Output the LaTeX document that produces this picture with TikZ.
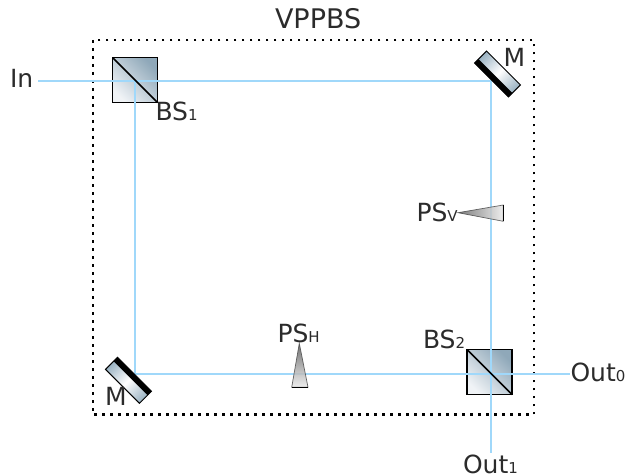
\documentclass[tikz,border=0pt]{standalone}
\usepackage{fontspec}
\setmainfont{DejaVu Sans}
\usetikzlibrary{calc}
\definecolor{beamblue}{RGB}{160,216,250}
\definecolor{labelgray}{HTML}{2B2B2B}
\definecolor{cubedark}{HTML}{8FA8B9}
\definecolor{cubelight}{HTML}{F0F3F6}
\definecolor{mirrorend}{HTML}{9AB2C2}
\pgfdeclarehorizontalshading{mirrorshade}{100bp}{color(0bp)=(mirrorend); color(25bp)=(mirrorend); color(50bp)=(white); color(75bp)=(mirrorend); color(100bp)=(mirrorend)}
\newcommand{\lbl}[2]{{\fontsize{25}{25}\selectfont #1\fontsize{15}{15}\selectfont #2}}
\tikzset{
  beam/.style={draw=beamblue,line width=1.5pt,line join=miter},
  cube/.style={draw=black,line width=1.5pt,minimum size=45pt,inner sep=0pt,outer sep=0pt,
    bottom color=cubelight,top color=cubedark,shading angle=-45},
  split/.style={draw=black,line width=1.5pt},
  mirror/.style={draw=black,line width=1pt,minimum width=48pt,minimum height=17pt,inner sep=0pt,outer sep=0pt,
    shade,shading=mirrorshade},
  prism/.style={draw=black!70,line width=.7pt,opacity=.85},
  base/.style={draw=black,line width=1.6pt},
  frame/.style={draw=black,line width=2.8pt,dash pattern=on 2.8pt off 5.2pt},
  lab/.style={text=labelgray,inner sep=0pt,outer sep=0pt,anchor=base west}
}
\begin{document}
\begin{tikzpicture}[x=1pt,y=-1pt]
\useasboundingbox (0,0) rectangle (634,476);
\draw[frame] (93,40) rectangle (534,414.7);
\node[cube] (bsa) at (135,80) {};
\node[cube] (bsb) at (489.5,372) {};
\coordinate (in) at (38,81);
\coordinate (tr) at (491,81);
\coordinate (ca) at (135,81);
\coordinate (bl) at (135,374);
\coordinate (outa) at (570,374);
\coordinate (outb) at (491,452.7);
\draw[beam] (in) -- (tr) -- (outb) (ca) -- (bl) -- (outa);
\draw[split] (bsa.north west) -- (bsa.south east);
\draw[split] (bsb.north west) -- (bsb.south east);
\path[prism,left color=black!60,right color=black!8] (458,212.7) -- (503.3,205) -- (503.3,221.3) -- cycle;
\draw[base] (503.3,205) -- (503.3,221.3);
\path[prism,top color=black!65,bottom color=black!8] (299.3,343.3) -- (308,387.3) -- (291.7,387.3) -- cycle;
\draw[base] (291.7,387.3) -- (308,387.3);
\begin{scope}[transform canvas={shift={(497.5,74)},rotate=-45}]
\node[mirror] (ma) at (0,0) {};
\fill[black] (ma.south west) -- (ma.south east) -- ($(ma.south east)!.33!(ma.north east)$) -- ($(ma.south west)!.33!(ma.north west)$) -- cycle;
\end{scope}
\begin{scope}[transform canvas={shift={(128.5,380.3)},rotate=-45}]
\node[mirror] (mb) at (0,0) {};
\fill[black] (mb.north west) -- (mb.north east) -- ($(mb.north east)!.33!(mb.south east)$) -- ($(mb.north west)!.33!(mb.south west)$) -- cycle;
\end{scope}
\node[lab] (tvp) at (275,29) {\fontsize{27}{27}\selectfont VPPBS};
\node[lab] (tin) at (10,88) {\lbl{In}{}};
\node[lab] (tbsa) at (155.5,120.7) {\lbl{BS}{1}};
\node[lab] (tbsb) at (423,348.3) {\lbl{BS}{2}};
\node[lab] (tma) at (503.5,66.7) {\lbl{M}{}};
\node[lab] (tmb) at (105,405.7) {\lbl{M}{}};
\node[lab] (tpsv) at (416.5,221.7) {\lbl{PS}{V}};
\node[lab] (tpsh) at (277.5,342.3) {\lbl{PS}{H}};
\node[lab] (touta) at (570.5,381.7) {\lbl{Out}{0}};
\node[lab] (toutb) at (463,473) {\lbl{Out}{1}};
\end{tikzpicture}
\end{document}
